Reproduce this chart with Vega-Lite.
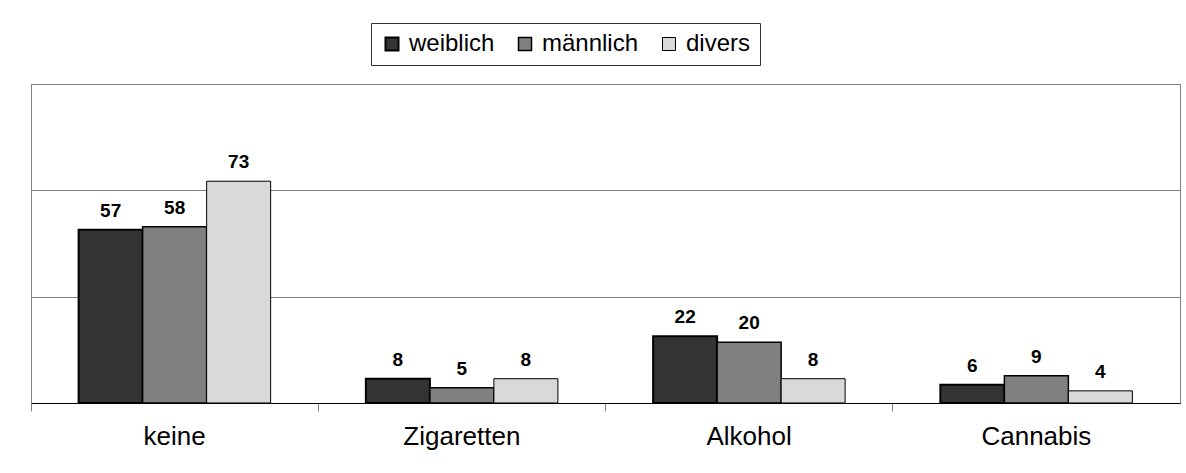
{
  "$schema": "https://vega.github.io/schema/vega-lite/v6.json",
  "width": 1149,
  "height": 319,
  "autosize": "none",
  "padding": {"left": 31, "top": 84, "right": 6, "bottom": 70},
  "background": "white",
  "config": {
    "font": "Liberation Sans",
    "view": {"stroke": "#808080", "strokeWidth": 1}
  },
  "data": {
    "values": [
      {"Kategorie": "keine", "Geschlecht": "weiblich", "Prozent": 57},
      {"Kategorie": "keine", "Geschlecht": "männlich", "Prozent": 58},
      {"Kategorie": "keine", "Geschlecht": "divers", "Prozent": 73},
      {"Kategorie": "Zigaretten", "Geschlecht": "weiblich", "Prozent": 8},
      {"Kategorie": "Zigaretten", "Geschlecht": "männlich", "Prozent": 5},
      {"Kategorie": "Zigaretten", "Geschlecht": "divers", "Prozent": 8},
      {"Kategorie": "Alkohol", "Geschlecht": "weiblich", "Prozent": 22},
      {"Kategorie": "Alkohol", "Geschlecht": "männlich", "Prozent": 20},
      {"Kategorie": "Alkohol", "Geschlecht": "divers", "Prozent": 8},
      {"Kategorie": "Cannabis", "Geschlecht": "weiblich", "Prozent": 6},
      {"Kategorie": "Cannabis", "Geschlecht": "männlich", "Prozent": 9},
      {"Kategorie": "Cannabis", "Geschlecht": "divers", "Prozent": 4}
    ]
  },
  "encoding": {
    "x": {
      "field": "Kategorie",
      "type": "nominal",
      "sort": ["keine", "Zigaretten", "Alkohol", "Cannabis"],
      "scale": {"paddingInner": 0, "paddingOuter": 0},
      "axis": {
        "title": null,
        "labelAngle": 0,
        "labelFontSize": 26,
        "labelColor": "#000000",
        "labelPadding": 12,
        "domainColor": "#000000",
        "domainWidth": 1,
        "tickColor": "#808080",
        "tickSize": 8,
        "bandPosition": 0,
        "grid": false
      }
    },
    "xOffset": {
      "field": "Geschlecht",
      "type": "nominal",
      "sort": ["weiblich", "männlich", "divers"],
      "scale": {"paddingInner": 0, "paddingOuter": 0.744}
    },
    "y": {
      "field": "Prozent",
      "type": "quantitative",
      "scale": {"domain": [0, 105], "nice": false},
      "axis": {
        "title": null,
        "values": [0, 35, 70, 105],
        "labels": false,
        "ticks": false,
        "grid": true,
        "gridColor": "#808080",
        "gridWidth": 1,
        "domainColor": "#808080"
      }
    }
  },
  "layer": [
    {
      "mark": {"type": "bar", "stroke": "#000000"},
      "encoding": {
        "fill": {
          "field": "Geschlecht",
          "type": "nominal",
          "sort": ["weiblich", "männlich", "divers"],
          "scale": {"domain": ["weiblich", "männlich", "divers"], "range": ["#333333", "#808080", "#d9d9d9"]},
          "legend": {
            "title": null,
            "orient": "none",
            "direction": "horizontal",
            "legendX": 340,
            "legendY": -61,
            "strokeColor": "#333333",
            "fillColor": "white",
            "padding": 9,
            "symbolType": "square",
            "symbolSize": 169,
            "symbolStrokeColor": "#000000",
            "symbolStrokeWidth": 1,
            "symbolOpacity": 1,
            "labelFontSize": 24,
            "labelColor": "#000000",
            "labelOffset": 5,
            "columnPadding": 18,
            "labelLimit": 300
          }
        },
        "strokeWidth": {
          "field": "Geschlecht",
          "type": "nominal",
          "scale": {"domain": ["weiblich", "männlich", "divers"], "range": [2, 1, 1]},
          "legend": null
        }
      }
    },
    {
      "mark": {"type": "text", "baseline": "alphabetic", "dy": -13, "fontSize": 19, "fontWeight": "bold", "color": "#000000"},
      "encoding": {
        "text": {"field": "Prozent", "type": "quantitative"}
      }
    }
  ]
}
